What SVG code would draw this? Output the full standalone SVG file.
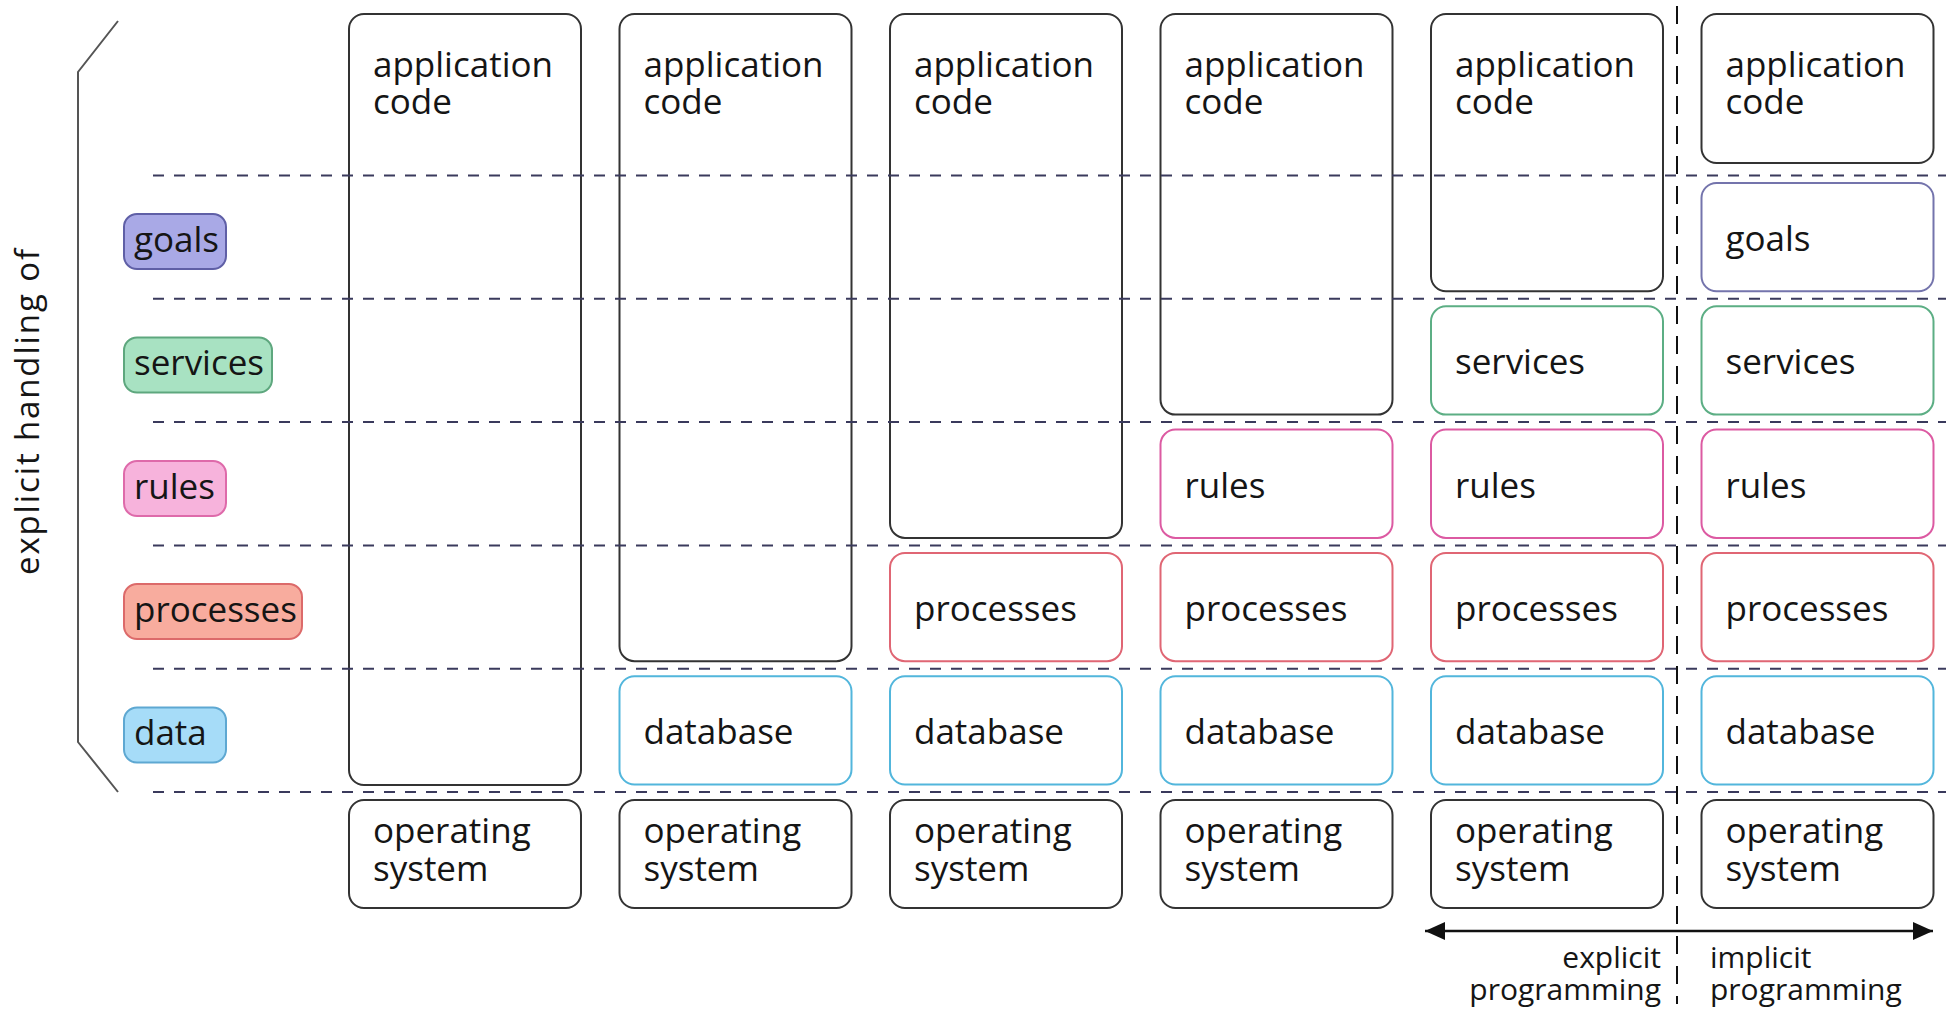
<svg xmlns="http://www.w3.org/2000/svg" width="1946" height="1010" viewBox="0 0 1946 1010">
<style>
  text { font-family: "Open Sans", "Noto Sans", "DejaVu Sans", sans-serif; fill: #151515; }
  .t { font-size: 35px; }
  .s { font-size: 30px; }
  .v { font-size: 33px; }
  .box { fill: #ffffff; stroke: #333333; stroke-width: 2; }
  .goal { fill: #ffffff; stroke: #7474ac; stroke-width: 2; }
  .serv { fill: #ffffff; stroke: #5cae84; stroke-width: 2; }
  .rule { fill: #ffffff; stroke: #dc5aa2; stroke-width: 2; }
  .proc { fill: #ffffff; stroke: #e06674; stroke-width: 2; }
  .db { fill: #ffffff; stroke: #52b6dc; stroke-width: 2; }
  .pg { fill: #a9a9e6; stroke: #5f5fa6; stroke-width: 2; }
  .ps { fill: #a8e2c2; stroke: #5ea77e; stroke-width: 2; }
  .pr { fill: #f7b3dc; stroke: #de6aaa; stroke-width: 2; }
  .pp { fill: #f8ac9e; stroke: #dc6a6a; stroke-width: 2; }
  .pd { fill: #a6dcf8; stroke: #5ea8d2; stroke-width: 2; }
  .dash { stroke: #3a3a5c; stroke-width: 2; stroke-dasharray: 11 10; fill: none; }
  .vsep { stroke: #111111; stroke-width: 2; stroke-dasharray: 18 12; fill: none; }
  .brace { stroke: #555555; stroke-width: 2; fill: none; }
</style>
<defs>
  <marker id="ah" viewBox="0 0 20 18" refX="20" refY="9" markerWidth="20" markerHeight="18" markerUnits="userSpaceOnUse" orient="auto-start-reverse">
    <path d="M0,0 L20,9 L0,18 z" fill="#111111"/>
  </marker>
</defs>
<rect x="0" y="0" width="1946" height="1010" fill="#ffffff"/>

<!-- left bracket and label -->
<g id="bracket">
  <path class="brace" d="M118,21 L78,72 L78,742 L118,792"/>
  <text class="v" transform="translate(39,412) rotate(-90)" text-anchor="middle" textLength="326" lengthAdjust="spacing">explicit handling of</text>
</g>

<!-- legend pills -->
<g id="pill-goals"><rect class="pg" x="124" y="214" width="102" height="55" rx="13"/><text class="t" x="134" y="251.5">goals</text></g>
<g id="pill-services"><rect class="ps" x="124" y="337.5" width="148" height="55" rx="13"/><text class="t" x="134" y="375">services</text></g>
<g id="pill-rules"><rect class="pr" x="124" y="461" width="102" height="55" rx="13"/><text class="t" x="134" y="498.5">rules</text></g>
<g id="pill-processes"><rect class="pp" x="124" y="584" width="178" height="55" rx="13"/><text class="t" x="134" y="621.5">processes</text></g>
<g id="pill-data"><rect class="pd" x="124" y="707.5" width="102" height="55" rx="13"/><text class="t" x="134" y="745">data</text></g>

<!-- column 1 -->
<g id="c1-app"><rect class="box" x="349" y="14" width="232" height="771" rx="15"/><text class="t" x="373" y="77">application</text><text class="t" x="373" y="114">code</text></g>
<g id="c1-os"><rect class="box" x="349" y="800" width="232" height="108" rx="15"/><text class="t" x="373" y="843">operating</text><text class="t" x="373" y="881">system</text></g>

<!-- column 2 -->
<g id="c2-app"><rect class="box" x="619.5" y="14" width="232" height="647.2" rx="15"/><text class="t" x="643.5" y="77">application</text><text class="t" x="643.5" y="114">code</text></g>
<g id="c2-db"><rect class="db" x="619.5" y="676.2" width="232" height="108.3" rx="15"/><text class="t" x="643.5" y="744.2">database</text></g>
<g id="c2-os"><rect class="box" x="619.5" y="800" width="232" height="108" rx="15"/><text class="t" x="643.5" y="843">operating</text><text class="t" x="643.5" y="881">system</text></g>

<!-- column 3 -->
<g id="c3-app"><rect class="box" x="890" y="14" width="232" height="523.9" rx="15"/><text class="t" x="914" y="77">application</text><text class="t" x="914" y="114">code</text></g>
<g id="c3-proc"><rect class="proc" x="890" y="552.9" width="232" height="108.3" rx="15"/><text class="t" x="914" y="620.9">processes</text></g>
<g id="c3-db"><rect class="db" x="890" y="676.2" width="232" height="108.3" rx="15"/><text class="t" x="914" y="744.2">database</text></g>
<g id="c3-os"><rect class="box" x="890" y="800" width="232" height="108" rx="15"/><text class="t" x="914" y="843">operating</text><text class="t" x="914" y="881">system</text></g>

<!-- column 4 -->
<g id="c4-app"><rect class="box" x="1160.5" y="14" width="232" height="400.6" rx="15"/><text class="t" x="1184.5" y="77">application</text><text class="t" x="1184.5" y="114">code</text></g>
<g id="c4-rules"><rect class="rule" x="1160.5" y="429.6" width="232" height="108.3" rx="15"/><text class="t" x="1184.5" y="497.6">rules</text></g>
<g id="c4-proc"><rect class="proc" x="1160.5" y="552.9" width="232" height="108.3" rx="15"/><text class="t" x="1184.5" y="620.9">processes</text></g>
<g id="c4-db"><rect class="db" x="1160.5" y="676.2" width="232" height="108.3" rx="15"/><text class="t" x="1184.5" y="744.2">database</text></g>
<g id="c4-os"><rect class="box" x="1160.5" y="800" width="232" height="108" rx="15"/><text class="t" x="1184.5" y="843">operating</text><text class="t" x="1184.5" y="881">system</text></g>

<!-- column 5 -->
<g id="c5-app"><rect class="box" x="1431" y="14" width="232" height="277.3" rx="15"/><text class="t" x="1455" y="77">application</text><text class="t" x="1455" y="114">code</text></g>
<g id="c5-serv"><rect class="serv" x="1431" y="306.3" width="232" height="108.3" rx="15"/><text class="t" x="1455" y="374.3">services</text></g>
<g id="c5-rules"><rect class="rule" x="1431" y="429.6" width="232" height="108.3" rx="15"/><text class="t" x="1455" y="497.6">rules</text></g>
<g id="c5-proc"><rect class="proc" x="1431" y="552.9" width="232" height="108.3" rx="15"/><text class="t" x="1455" y="620.9">processes</text></g>
<g id="c5-db"><rect class="db" x="1431" y="676.2" width="232" height="108.3" rx="15"/><text class="t" x="1455" y="744.2">database</text></g>
<g id="c5-os"><rect class="box" x="1431" y="800" width="232" height="108" rx="15"/><text class="t" x="1455" y="843">operating</text><text class="t" x="1455" y="881">system</text></g>

<!-- column 6 -->
<g id="c6-app"><rect class="box" x="1701.5" y="14" width="232" height="149" rx="15"/><text class="t" x="1725.5" y="77">application</text><text class="t" x="1725.5" y="114">code</text></g>
<g id="c6-goals"><rect class="goal" x="1701.5" y="183" width="232" height="108.3" rx="15"/><text class="t" x="1725.5" y="251">goals</text></g>
<g id="c6-serv"><rect class="serv" x="1701.5" y="306.3" width="232" height="108.3" rx="15"/><text class="t" x="1725.5" y="374.3">services</text></g>
<g id="c6-rules"><rect class="rule" x="1701.5" y="429.6" width="232" height="108.3" rx="15"/><text class="t" x="1725.5" y="497.6">rules</text></g>
<g id="c6-proc"><rect class="proc" x="1701.5" y="552.9" width="232" height="108.3" rx="15"/><text class="t" x="1725.5" y="620.9">processes</text></g>
<g id="c6-db"><rect class="db" x="1701.5" y="676.2" width="232" height="108.3" rx="15"/><text class="t" x="1725.5" y="744.2">database</text></g>
<g id="c6-os"><rect class="box" x="1701.5" y="800" width="232" height="108" rx="15"/><text class="t" x="1725.5" y="843">operating</text><text class="t" x="1725.5" y="881">system</text></g>

<!-- connectors: level lines, separator, arrow -->
<g id="connectors">
  <line class="dash" x1="153" y1="175.5" x2="1946" y2="175.5"/>
  <line class="dash" x1="153" y1="298.8" x2="1946" y2="298.8"/>
  <line class="dash" x1="153" y1="422.1" x2="1946" y2="422.1"/>
  <line class="dash" x1="153" y1="545.4" x2="1946" y2="545.4"/>
  <line class="dash" x1="153" y1="668.7" x2="1946" y2="668.7"/>
  <line class="dash" x1="153" y1="792" x2="1946" y2="792"/>
  <line class="vsep" x1="1677" y1="6" x2="1677" y2="1004"/>
  <line x1="1425" y1="931" x2="1933" y2="931" stroke="#111111" stroke-width="2.5" marker-start="url(#ah)" marker-end="url(#ah)"/>
</g>

<g id="axis-labels">
  <text class="s" x="1661" y="968" text-anchor="end">explicit</text>
  <text class="s" x="1661" y="1000" text-anchor="end">programming</text>
  <text class="s" x="1710" y="968">implicit</text>
  <text class="s" x="1710" y="1000">programming</text>
</g>
</svg>
